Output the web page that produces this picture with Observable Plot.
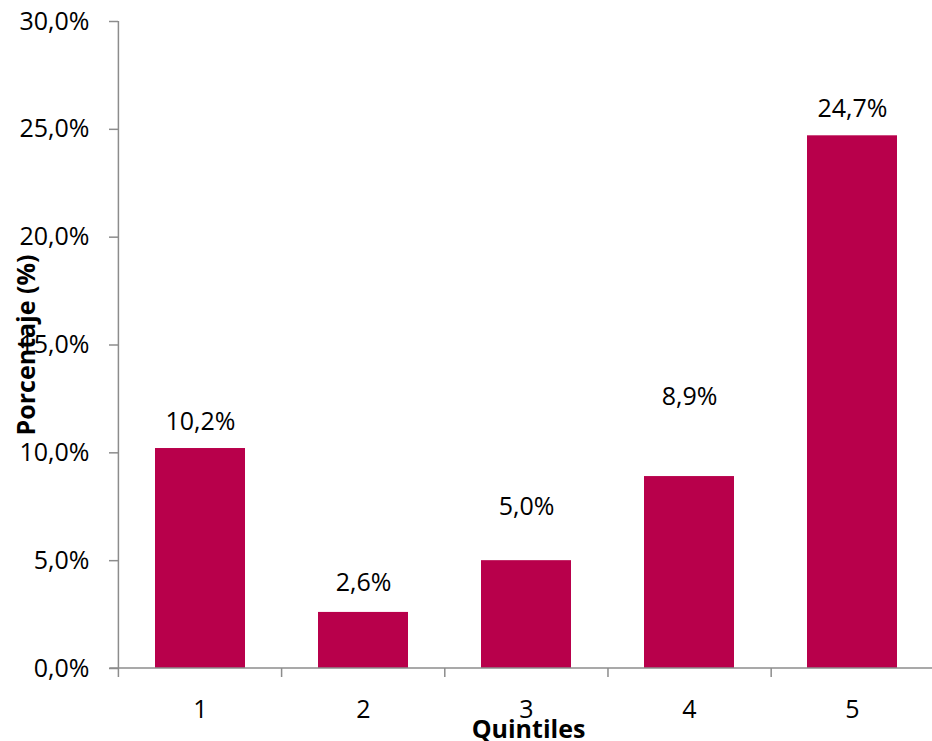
<!DOCTYPE html>
<html>
<head>
<meta charset="utf-8">
<script src="https://cdn.jsdelivr.net/npm/d3@7"></script>
<script src="https://cdn.jsdelivr.net/npm/@observablehq/plot@0.6"></script>
<style>
  html, body { margin: 0; padding: 0; background: #fff; }
  #chart svg { display: block; font-family: "Open Sans", "Noto Sans", sans-serif; }
</style>
</head>
<body>
<div id="chart"></div>
<script>
// Data
const quintiles = ["1", "2", "3", "4", "5"];
const values = [10.2, 2.6, 5.0, 8.9, 24.7];
const valueLabels = ["10,2%", "2,6%", "5,0%", "8,9%", "24,7%"];
const yTicks = [0, 5, 10, 15, 20, 25, 30];
const yTickLabels = ["0,0%", "5,0%", "10,0%", "15,0%", "20,0%", "25,0%", "30,0%"];
const yTitle = "Porcentaje (%)";
const xTitle = "Quintiles";

// Per-label vertical lift above each bar (styling, px)
const labelLift = [27, 29, 54, 80, 27];

const data = quintiles.map((q, i) => ({q, value: values[i], label: valueLabels[i], lift: labelLift[i]}));

const barColor = "#B8004B";
const axisGray = "#8c8c8c";
const fontSize = 25;
const padInner = 0.4485;

const W = 932, H = 741;

const plot = Plot.plot({
  width: W,
  height: H,
  marginLeft: 118,
  marginRight: -2,
  marginTop: 21,
  marginBottom: 73,
  style: {fontFamily: '"Open Sans", "Noto Sans", sans-serif', background: "#fff", overflow: "hidden"},
  x: {domain: quintiles, paddingInner: padInner, paddingOuter: padInner / 2, align: 0.5},
  y: {domain: [0, 30]},
  marks: [
    Plot.barY(data, {x: "q", y: "value", fill: barColor}),
    ...data.map(d => Plot.text([d], {
      x: "q", y: "value", text: "label",
      dy: -d.lift, lineAnchor: "middle",
      fontSize: fontSize, fill: "#000"
    })),
    Plot.axisY({
      ticks: yTicks,
      tickFormat: v => yTickLabels[yTicks.indexOf(v)],
      tickSize: 9, tickPadding: 20,
      stroke: axisGray, fill: "#000",
      fontSize: fontSize, label: null
    }),
    Plot.axisX({
      tickSize: 0, tickPadding: 32,
      fill: "#000", fontSize: fontSize, label: null
    }),
    Plot.text([yTitle], {
      frameAnchor: "left", rotate: -90, dx: -92,
      textAnchor: "middle", lineAnchor: "middle",
      fontSize: fontSize, fontWeight: "bold", fill: "#000"
    }),
    Plot.text([xTitle], {
      frameAnchor: "bottom", dy: 61, dx: 2,
      textAnchor: "middle", lineAnchor: "middle",
      fontSize: fontSize, fontWeight: "bold", fill: "#000"
    })
  ]
});

// axis lines and category boundary ticks, positioned with Plot's own scales
const xs = plot.scale("x");
const ys = plot.scale("y");
const svg = d3.select(plot);
const y0 = ys.apply(0), yTop = ys.apply(30);
const bw = xs.bandwidth;
const step = bw / (1 - padInner);
const firstX = xs.apply(quintiles[0]) - (step - bw) / 2;
const boundaries = d3.range(quintiles.length + 1).map(i => firstX + i * step);
const g = svg.append("g").attr("stroke", axisGray).attr("stroke-width", 1.5);
g.append("line").attr("x1", boundaries[0]).attr("x2", boundaries[0]).attr("y1", yTop).attr("y2", y0);
g.append("line").attr("x1", boundaries[0] - 9).attr("x2", W).attr("y1", y0).attr("y2", y0);
boundaries.forEach(b => {
  g.append("line").attr("x1", b).attr("x2", b).attr("y1", y0).attr("y2", y0 + 9);
});
svg.selectAll("[aria-label='y-axis tick'] path").attr("stroke-width", 1.5);
// make sure axis tick labels use the chart font size
svg.selectAll("[aria-label='y-axis tick label'], [aria-label='x-axis tick label']")
  .attr("font-size", fontSize).style("font-size", fontSize + "px");

document.getElementById("chart").appendChild(plot);
</script>
</body>
</html>
